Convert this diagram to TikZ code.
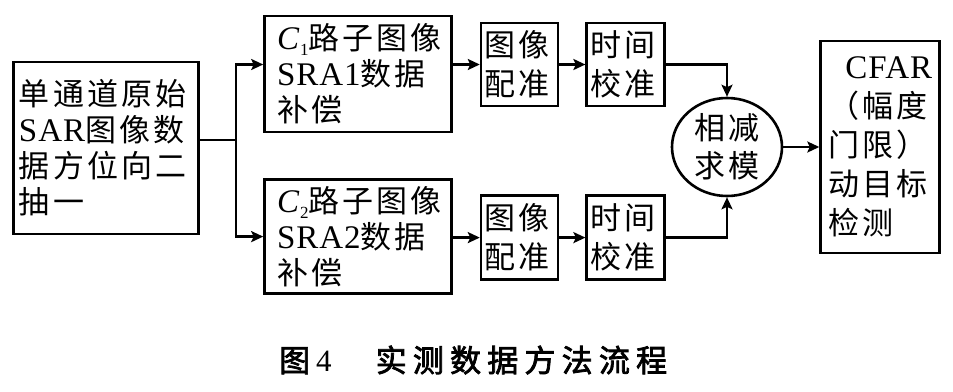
\documentclass[tikz,border=0pt]{standalone}
\usepackage{fontspec}
\setmainfont{Liberation Serif}
\newfontfamily\cjk{Noto Sans CJK SC}[LetterSpace=10]
\newfontfamily\latin{Liberation Serif}[LetterSpace=3]
\newfontfamily\capfont{Noto Sans CJK SC}[LetterSpace=20, FakeBold=2.4]
\usetikzlibrary{positioning,arrows.meta,shapes.geometric}
\newcommand{\lat}[1]{{\latin\fontsize{33}{36}\selectfont #1}}
\newcommand{\chan}[1]{{\latin\itshape\fontsize{33}{36}\selectfont C}\kern1pt\raisebox{-6pt}{\latin\fontsize{17}{17}\selectfont #1}}

\begin{document}
\begin{tikzpicture}[x=1pt, y=-1pt,
        box/.style = {draw, line width=2.6pt, inner sep=0pt, align=left},
        txt/.style = {font=\cjk\fontsize{31}{36}\selectfont},
        small/.style = {box, font=\cjk\fontsize{31}{39}\selectfont, text width=70pt},
        flow/.style = {->, line width=2.4pt},
        >={Stealth[length=12pt, width=11pt, inset=2.5pt]}]
        \useasboundingbox (0,0) rectangle (953,391);

        \node[box, txt, text width=174pt, minimum width=185pt, minimum height=172pt] (src) at (106,148) {单通道原始\\\lat{SAR}图像数\\据方位向二\\抽一};
        \node[box, txt, text width=162pt, minimum width=187pt, minimum height=116pt] (c1) at (358,74) {\chan{1}路子图像\\\lat{SRA1}数据\\补偿};
        \node[box, txt, text width=162pt, minimum width=187pt, minimum height=114pt] (c2) [below=45pt of c1] {\chan{2}路子图像\\\lat{SRA2}数据\\补偿};
        \node[small, minimum width=77pt, minimum height=83pt] (reg1) [right=27pt of c1, yshift=9.5pt] {图像\\配准};
        \node[small, minimum width=78pt, minimum height=83pt] (tim1) [right=26pt of reg1] {时间\\校准};
        \node[small, minimum width=77pt, minimum height=84pt] (reg2) [right=27pt of c2, yshift=-1pt] {图像\\配准};
        \node[small, minimum width=78pt, minimum height=84pt] (tim2) [right=26pt of reg2] {时间\\校准};
        \node[draw, ellipse, line width=2.6pt, inner sep=0pt, minimum width=110pt, minimum height=98pt, align=center, font=\cjk\fontsize{31}{38}\selectfont] (sub) at (727,147) {相减\\求模};
        \node[box, font=\cjk\fontsize{31}{39}\selectfont, text width=104pt, minimum width=119pt, minimum height=212pt] (cfar) [right=36pt of sub] {\hspace*{\fill}\lat{CFAR}\hspace*{\fill}\\（幅度\\门限）\\动目标\\检测};
        \node[anchor=west, inner sep=0pt, font=\capfont\fontsize{31}{36}\selectfont] (cap) at (279,360) {图\hspace{6pt}{\latin 4}\hspace{44pt}实测数据方法流程};

        \coordinate (split) at (236,140);
        \draw[line width=2.4pt] (src.east |- split) -- (split);
        \draw[flow] (split) |- (c1.west |- reg1.west);
        \draw[flow] (split) |- (c2.west);
        \draw[flow] (c1.east |- reg1.west) -- (reg1.west);
        \draw[flow] (reg1) -- (tim1);
        \draw[flow] (c2.east |- reg2.west) -- (reg2.west);
        \draw[flow] (reg2) -- (tim2);
        \draw[flow] (tim1.east) -| (sub.north);
        \draw[flow] (tim2.east) -| (sub.south);
        \draw[flow] (sub) -- (cfar);
\end{tikzpicture}
\end{document}
